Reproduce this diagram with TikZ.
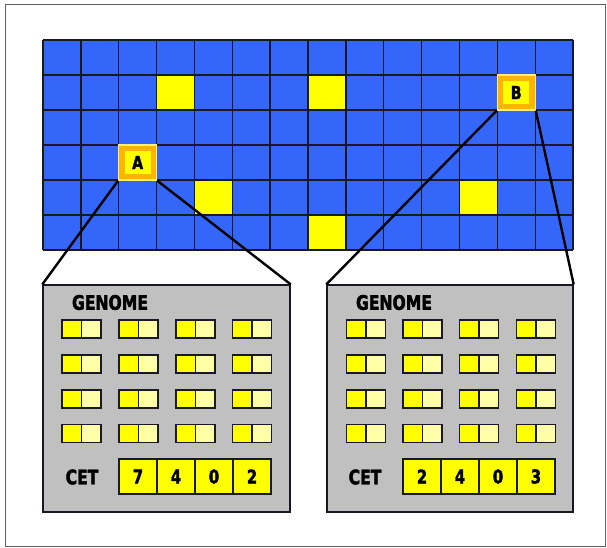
\documentclass[tikz,border=0pt]{standalone}
\usepackage{fontspec}
\setmainfont{DejaVu Sans}
\newfontfamily\heavy{DejaVu Sans}[FakeStretch=0.78,FakeBold=2]
\definecolor{gridblue}{RGB}{52,102,250}
\definecolor{cellyellow}{RGB}{255,255,0}
\definecolor{paleyellow}{RGB}{255,255,168}
\definecolor{markorange}{RGB}{255,180,0}
\definecolor{markedge}{RGB}{255,240,120}
\definecolor{panelgray}{RGB}{192,192,192}
\definecolor{inkdark}{RGB}{25,25,35}
\begin{document}
\begin{tikzpicture}[x=1pt,y=-1pt,
  frame/.style={draw=inkdark!70,line width=1pt},
  gridline/.style={draw=inkdark,line width=1.3pt},
  markcell/.style={minimum width=37.857pt,minimum height=35pt,inner sep=0pt,
    fill=markorange,draw=markedge,line width=1.2pt,
    font=\heavy\bfseries\fontsize{18}{18}\selectfont,
    path picture={\fill[cellyellow] ([shift={(6pt,-6pt)}]path picture bounding box.north west) rectangle ([shift={(-6pt,6pt)}]path picture bounding box.south east);}},
  panel/.style={fill=panelgray,draw=inkdark,line width=1.3pt,minimum height=227pt,inner sep=0pt},
  connector/.style={draw=black,line width=2.4pt},
  gene/.style={minimum width=39pt,minimum height=18pt,inner sep=0pt,fill=paleyellow,draw=inkdark,line width=1.2pt,
    path picture={\fill[cellyellow] (path picture bounding box.north west) rectangle (path picture bounding box.south);
      \draw[inkdark,line width=1.2pt] (path picture bounding box.north) -- (path picture bounding box.south);}},
  cetcell/.style={minimum width=38pt,minimum height=35pt,inner sep=0pt,fill=cellyellow,draw=inkdark,line width=1.2pt,
    font=\heavy\bfseries\fontsize{19}{19}\selectfont},
  heading/.style={inner sep=0pt,font=\heavy\bfseries\fontsize{20}{20}\selectfont}
]
\useasboundingbox (0,0) rectangle (607,548);
\draw[frame] (5,5) rectangle (605.5,546);
% grid
\fill[gridblue] (43,40) rectangle (573,250);
\foreach \c/\r in {3/1,7/1,4/4,11/4,7/5}
  \fill[cellyellow] ({43+\c*530/14},{40+\r*35}) rectangle ++({530/14},35);
\foreach \i in {0,...,14}
  \draw[gridline] ({43+\i*530/14},40) -- ++(0,210);
\foreach \j in {0,...,6}
  \draw[gridline] (43,{40+\j*35}) -- ++(530,0);
% marked cells
\node[markcell] (A) at ({43+2.5*530/14},{40+3.5*35}) {A};
\node[markcell] (B) at ({43+12.5*530/14},{40+1.5*35}) {B};
% panels
\node[panel,minimum width=247pt] (PA) at (166.5,398.5) {};
\node[panel,minimum width=246pt] (PB) at (450,398.5) {};
% connectors
\draw[connector] (A.south west) -- (PA.north west);
\draw[connector] (A.south east) -- (PA.north east);
\draw[connector] (B.south west) -- (PB.north west);
\draw[connector] (B.south east) -- (PB.north east);
% headings
\node[heading] (genA) at (110,302.5) {GENOME};
\node[heading] (genB) at (394,302.5) {GENOME};
\node[heading] (cetA) at (82,477) {CET};
\node[heading] (cetB) at (365,477) {CET};
% genes
\foreach \i/\x in {1/81.5,2/138.5,3/195.5,4/252}
  \foreach \j/\y in {1/329,2/364,3/399,4/433.5}
    \node[gene] (ga-\i-\j) at (\x,\y) {};
\foreach \i/\x in {1/366,2/422.5,3/479,4/536}
  \foreach \j/\y in {1/329,2/364,3/399,4/433.5}
    \node[gene] (gb-\i-\j) at (\x,\y) {};
% CET values
\foreach \i/\x/\v in {1/138/7,2/176/4,3/214/0,4/252/2}
  \node[cetcell] (ca-\i) at (\x,476.5) {\v};
\foreach \i/\x/\v in {1/422/2,2/460/4,3/498/0,4/536/3}
  \node[cetcell] (cb-\i) at (\x,476.5) {\v};
\end{tikzpicture}
\end{document}
